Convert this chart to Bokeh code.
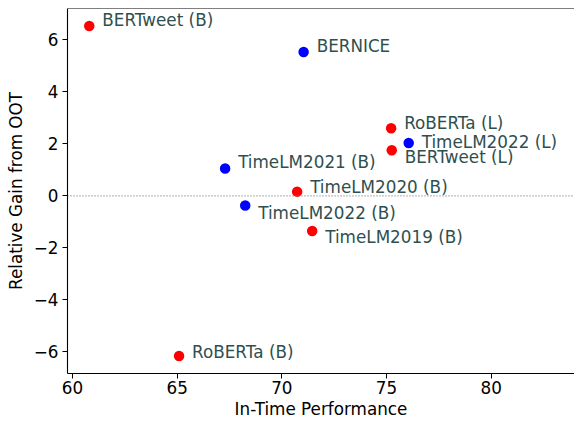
from bokeh.plotting import figure
from bokeh.models import Range1d, Span, SingleIntervalTicker, CustomJSTickFormatter, ColumnDataSource
from bokeh.core.properties import value
from bokeh.embed import file_html
from bokeh.resources import INLINE

# ---- data ----
models = ["BERTweet (B)", "BERNICE", "TimeLM2021 (B)", "TimeLM2020 (B)", "RoBERTa (L)",
          "TimeLM2022 (L)", "BERTweet (L)", "TimeLM2022 (B)", "TimeLM2019 (B)", "RoBERTa (B)"]
in_time_perf = [60.80, 71.04, 67.29, 70.73, 75.22, 76.06, 75.25, 68.25, 71.45, 65.09]
relative_gain = [6.53, 5.53, 1.05, 0.16, 2.60, 2.03, 1.75, -0.37, -1.35, -6.16]
x_ticks_interval = 5
y_ticks_interval = 2
x_limits = (59.76, 83.98)
y_limits = (-6.83, 7.20)

# ---- styles ----
point_colors = ["red", "blue", "blue", "red", "red", "blue", "red", "blue", "red", "red"]
label_dx = [13] * len(models)
label_dy = [-5.5, -5.5, -6, -5, -5.5, -1, 6.5, 7.5, 6.5, -4]

FONT = "DejaVu Sans"
FS = "16.8px"

src = ColumnDataSource(dict(x=in_time_perf, y=relative_gain, name=models,
                            color=point_colors, dx=label_dx, dy=label_dy))

p = figure(width=574, height=421, output_backend="svg", toolbar_location=None,
           x_range=Range1d(*x_limits), y_range=Range1d(*y_limits),
           min_border_left=67, min_border_right=0, min_border_top=8, min_border_bottom=47)
p.outline_line_color = None
p.grid.visible = False
p.background_fill_color = "white"
p.border_fill_color = "white"

p.add_layout(Span(location=0, dimension="width", line_color="gray", line_dash="1 2", line_width=1.2))
p.add_layout(Span(location=y_limits[1], dimension="width", line_color="black", line_width=1.1))

p.scatter("x", "y", source=src, size=10.5, fill_color="color", line_color=None)
p.text("x", "y", text="name", source=src, x_offset="dx", y_offset="dy",
       text_align="left", text_baseline="middle", text_color="#2f4f4f",
       text_font=value(FONT), text_font_size=value(FS))

fmt = CustomJSTickFormatter(code="return (tick < 0 ? '\\u2212' + Math.abs(tick) : tick.toString());")
p.xaxis.ticker = SingleIntervalTicker(interval=x_ticks_interval, num_minor_ticks=0)
p.yaxis.ticker = SingleIntervalTicker(interval=y_ticks_interval, num_minor_ticks=0)
p.yaxis.formatter = fmt
p.xaxis.axis_label = "In-Time Performance"
p.yaxis.axis_label = "Relative Gain from OOT"
for ax in (p.xaxis, p.yaxis):
    ax.axis_label_text_font = FONT
    ax.axis_label_text_font_style = "normal"
    ax.axis_label_text_font_size = FS
    ax.axis_label_text_color = "black"
    ax.major_label_text_font = FONT
    ax.major_label_text_font_size = FS
    ax.major_label_text_color = "black"
    ax.axis_line_color = "black"
    ax.axis_line_width = 1.1
    ax.major_tick_line_color = "black"
    ax.major_tick_out = 5
    ax.major_tick_in = 0
    ax.minor_tick_line_color = None
p.xaxis.major_label_standoff = 2
p.xaxis.axis_label_standoff = 2
p.yaxis.major_label_standoff = 4
p.yaxis.axis_label_standoff = 5

open("out.html", "w").write(file_html(p, INLINE))
